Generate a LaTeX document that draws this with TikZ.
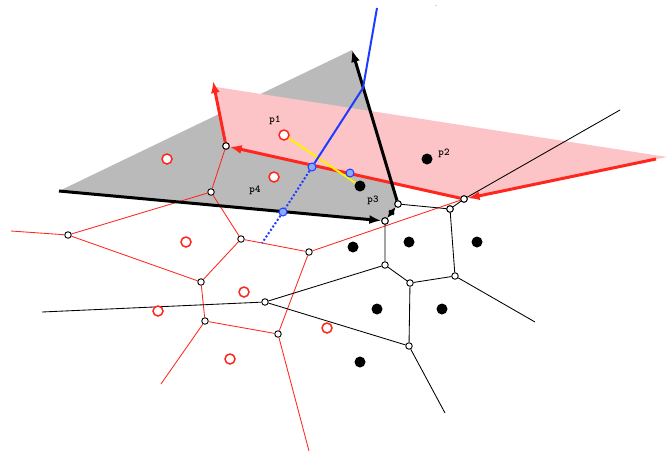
\documentclass[tikz,border=0pt]{standalone}
\usepackage{fontspec}
\usetikzlibrary{arrows.meta}
\definecolor{rd}{RGB}{255,38,30}
\definecolor{blu}{RGB}{30,60,255}
\definecolor{pnk}{RGB}{252,196,199}
\definecolor{gry}{RGB}{186,186,186}
\definecolor{lblu}{RGB}{140,170,250}
\tikzset{
 vert/.style={circle,draw=black,fill=white,line width=.9pt,inner sep=0pt,minimum size=6.5pt},
 bvert/.style={circle,draw=blu,fill=lblu,line width=1pt,inner sep=0pt,minimum size=8pt},
 rsite/.style={circle,draw=rd,fill=white,line width=1.5pt,inner sep=0pt,minimum size=10pt},
 bsite/.style={circle,fill=black,inner sep=0pt,minimum size=11pt},
 thinr/.style={rd,line width=.85pt},
 thinb/.style={black,line width=.85pt},
 thickr/.style={rd,line width=3pt,-{Latex[length=12pt,width=9pt]}},
 thickk/.style={black,line width=3pt,-{Latex[length=12pt,width=9pt]}},
 bl/.style={blu,line width=2pt},
 lab/.style={font=\ttfamily\bfseries\fontsize{10.5}{12}\selectfont,inner sep=0pt},
}
\begin{document}
\begin{tikzpicture}[x=1pt,y=-1pt]
\useasboundingbox (0,0) rectangle (671,461);
\coordinate (G1) at (59,191);
\coordinate (G2) at (352,50);
\coordinate (P1) at (213,81);
\coordinate (P2) at (667,157);
\coordinate (Pe) at (656,159);
\coordinate (Bt) at (377,8);
\coordinate (Bm) at (363,88);
\coordinate (Bd) at (262,243);
\coordinate (r1) at (11,231);
\coordinate (r2) at (161,384);
\coordinate (r3) at (309,451);
\coordinate (k1) at (42,312);
\coordinate (k2) at (445,413);
\coordinate (k3) at (535,322);
\coordinate (k4) at (620,110);
\fill[gry] (G1) -- (G2) -- (398,204) -- (385,221) -- cycle;
\fill[pnk] (216,87) -- (P2) -- (464,199) -- (226,146) -- cycle;
\node[vert] (a) at (226,146) {};
\node[vert] (b) at (211,192) {};
\node[vert] (c) at (241,239) {};
\node[vert] (d) at (309,252) {};
\node[vert] (e) at (385,221) {};
\node[vert] (f) at (201,282) {};
\node[vert] (g) at (205,321) {};
\node[vert] (h) at (278,334) {};
\node[vert] (i) at (265,302) {};
\node[vert] (j) at (68,235) {};
\node[vert] (n) at (464,199) {};
\node[vert] (q) at (398,204) {};
\node[vert] (r) at (450,209) {};
\node[vert] (s) at (455,276) {};
\node[vert] (t) at (410,283) {};
\node[vert] (u) at (385,265) {};
\node[vert] (v) at (409,346) {};
\draw[thinr] (a)--(b) (b)--(c) (b)--(j) (j)--(r1) (j)--(f) (c)--(f) (f)--(g) (g)--(h) (g)--(r2) (h)--(r3) (c)--(d) (d)--(h) (d)--(n);
\draw[thinb] (k1)--(i) (i)--(u) (i)--(v) (u)--(e) (u)--(t) (t)--(s) (t)--(v) (s)--(r) (s)--(k3) (r)--(q) (r)--(n) (n)--(k4) (v)--(k2);
\draw[thickr] (Pe)--(n);
\draw[thickr] (n)--(a);
\draw[thickr] (a)--(P1);
\draw[thickk] (G1)--(e);
\draw[thickk] (q)--(G2);
\draw[black,line width=2.2pt,{Latex[length=8pt,width=7pt]}-{Latex[length=8pt,width=7pt]}] (e)--(q);
\node[rsite] (p1) at (284,135) {};
\node[rsite] (s2) at (167,159) {};
\node[rsite] (p4) at (274,177) {};
\node[rsite] (s4) at (186,242) {};
\node[rsite] (s5) at (244,292) {};
\node[rsite] (s6) at (158,311) {};
\node[rsite] (s7) at (327,328) {};
\node[rsite] (s8) at (230,359) {};
\node[bsite] (p2) at (427,159) {};
\node[bsite] (p3) at (360,186) {};
\node[bsite] (t3) at (353,247) {};
\node[bsite] (t4) at (409,242) {};
\node[bsite] (t5) at (477,242) {};
\node[bsite] (t6) at (377,309) {};
\node[bsite] (t7) at (442,309) {};
\node[bsite] (t8) at (360,362) {};
\draw[yellow,line width=2pt] (p1)--(p3);
\node[bvert] (bA) at (312,167) {};
\node[bvert] (bB) at (283,212) {};
\node[bvert] (bC) at (350,173) {};
\draw[bl] (Bt)--(Bm)--(bA);
\draw[bl,dotted] (bA)--(bB)--(Bd);
\node[vert] at (a) {};
\node[vert] at (e) {};
\node[vert] at (n) {};
\node[vert] at (q) {};
\node[vert] at (r) {};
\node[lab] at (275,120) {p1};
\node[lab] at (444,153) {p2};
\node[lab] at (373,200) {p3};
\node[lab] at (255,190) {p4};
\fill[gray] (436,5.6) circle (.5);
\end{tikzpicture}
\end{document}
